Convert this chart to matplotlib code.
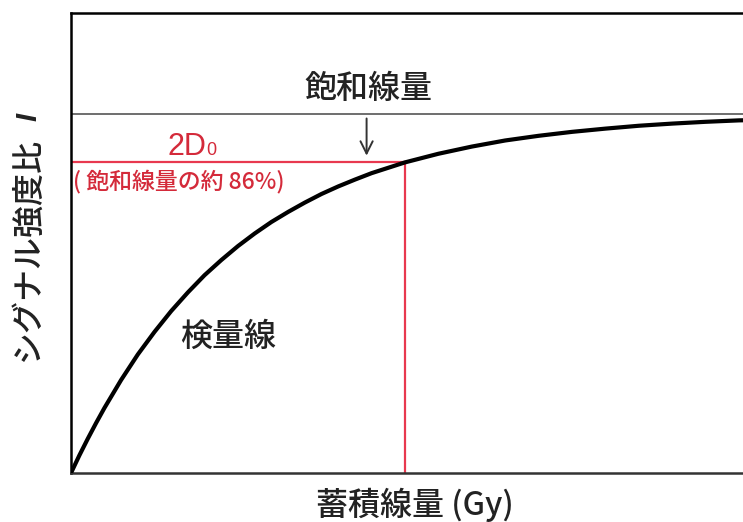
import numpy as np
import matplotlib.pyplot as plt

plt.rcParams['font.family'] = ['Noto Sans CJK JP', 'DejaVu Sans']

# dose in units of D0, and the relative signal
dose = [0.0, 0.05, 0.1, 0.15, 0.2, 0.3, 0.4, 0.5, 0.6, 0.7, 0.8, 0.9, 1.0,
        1.1, 1.2, 1.3, 1.4, 1.5, 1.6, 1.7, 1.8, 1.9, 2.0,
        2.2, 2.4, 2.6, 2.8, 3.0, 3.2, 3.4, 3.6, 3.8, 4.0, 4.1]
signal = [0.0, 0.049, 0.095, 0.139, 0.181, 0.259, 0.330, 0.393, 0.451, 0.503, 0.551, 0.593, 0.632,
          0.667, 0.699, 0.727, 0.753, 0.777, 0.798, 0.817, 0.835, 0.850, 0.865,
          0.889, 0.909, 0.926, 0.939, 0.950, 0.959, 0.967, 0.973, 0.978, 0.982, 0.983]

saturation = 1.0
d_2d0 = 2.0
i_2d0 = 0.865

red_line = "#e8384f"
red_text = "#d42a3a"
ink = "#222222"

fig = plt.figure(figsize=(7.43, 5.22), dpi=100)
ax = fig.add_axes([71 / 743, 49 / 522, 672 / 743, 460 / 522])

ax.plot(dose, signal, color="black", linewidth=3, solid_joinstyle="round",
        solid_capstyle="round", zorder=3)

# saturation level
ax.axhline(saturation, color="#555555", linewidth=1.2, zorder=1)

# 2D0 guide lines
ax.plot([0, d_2d0], [i_2d0, i_2d0], color=red_line, linewidth=1.6, zorder=2)
ax.plot([d_2d0, d_2d0], [0, i_2d0], color=red_line, linewidth=1.6, zorder=2)

ax.set_xlim(0, 4.024)
ax.set_ylim(0, 1.281)
ax.set_xticks([])
ax.set_yticks([])
ax.spines["right"].set_visible(False)
for side in ["left", "bottom", "top"]:
    ax.spines[side].set_linewidth(1.8)
    ax.spines[side].set_color("black")
ax.spines["bottom"].set_color("#333333")

ax.text(1.78, 1.07, "飽和線量", fontsize=23, fontweight="medium", ha="center", va="center",
        color=ink)
ax.annotate("", xy=(1.77, 0.876), xytext=(1.77, 0.995),
            arrowprops=dict(arrowstyle="->", color="#333333", lw=1.4,
                            mutation_scale=22))

ax.text(0.94, 0.379, "検量線", fontsize=23, fontweight="medium", ha="center", va="center",
        color=ink)

ax.text(0.575, 0.886, "2D", fontsize=22, ha="left", va="baseline", color=red_text,
        family="Liberation Sans")
ax.text(0.81, 0.886, "0", fontsize=13, ha="left", va="baseline", color=red_text,
        family="Liberation Sans")
ax.text(0.012, 0.813, "( 飽和線量の約 86%)", fontsize=16.5, fontweight="medium",
        ha="left", va="center", color=red_text)

fig.text(28 / 743, 1 - 249 / 522, "シグナル強度比", fontsize=23, fontweight="medium",
         rotation=90, ha="center", va="center", color=ink)
fig.text(28 / 743, 1 - 117 / 522, "I", fontsize=21, rotation=90, ha="center", va="center",
         color=ink, family="Liberation Sans", fontweight="bold", fontstyle="italic")
fig.text(415 / 743, 1 - 505 / 522, "蓄積線量 (Gy)", fontsize=23, fontweight="medium",
         ha="center", va="center", color=ink)

fig.savefig("out.png", dpi=100)
